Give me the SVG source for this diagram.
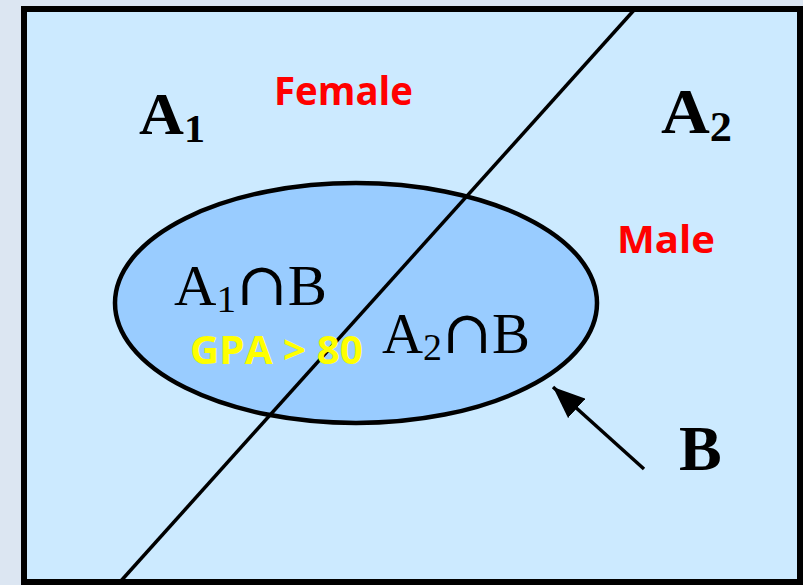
<svg xmlns="http://www.w3.org/2000/svg" width="803" height="585" viewBox="0 0 803 585">
  <style>
    .sym { font-family: "Liberation Serif", "DejaVu Serif", serif; fill: #000; }
    .bold { font-weight: bold; }
    .cap { font-family: "DejaVu Serif", serif; }
    .lbl { font-family: "Open Sans", "Liberation Sans", sans-serif; font-weight: bold; }
    .line { stroke: #000; fill: none; }
  </style>
  <defs>
    <marker id="arrowhead" viewBox="0 0 32 26" refX="32" refY="13" markerWidth="32" markerHeight="26" orient="auto" markerUnits="userSpaceOnUse">
      <path d="M0,0 L32,13 L0,26 Z" fill="#000"/>
    </marker>
  </defs>
  <rect width="803" height="585" fill="#dce6f2"/>
  <g id="universe">
    <rect x="24" y="9" width="776" height="573" fill="#cceaff" stroke="#000" stroke-width="6"/>
  </g>
  <g id="setB">
    <ellipse cx="356" cy="303" rx="241" ry="120" fill="#99ccff" stroke="#000" stroke-width="4.5"/>
  </g>
  <g id="connectors">
    <line class="line" x1="635" y1="9" x2="120" y2="582" stroke-width="3.5"/>
    <line class="line" x1="644" y1="469" x2="553" y2="387" stroke-width="3.5" marker-end="url(#arrowhead)"/>
  </g>
  <g id="labelA1">
    <text class="sym bold" x="139" y="134" font-size="59" textLength="66" lengthAdjust="spacingAndGlyphs">A<tspan font-size="40" dy="8">1</tspan></text>
  </g>
  <g id="labelA2">
    <text class="sym bold" x="661" y="133" font-size="64" textLength="71" lengthAdjust="spacingAndGlyphs">A<tspan font-size="42" dy="8">2</tspan></text>
  </g>
  <g id="labelFemale">
    <text class="lbl" x="274" y="105" font-size="40" fill="#ff0000" textLength="139" lengthAdjust="spacingAndGlyphs">Female</text>
  </g>
  <g id="labelMale">
    <text class="lbl" x="617" y="253" font-size="38" fill="#ff0000" textLength="98" lengthAdjust="spacingAndGlyphs">Male</text>
  </g>
  <g id="labelA1B">
    <text class="sym" x="174" y="305" font-size="57" textLength="153" lengthAdjust="spacingAndGlyphs">A<tspan font-size="38" dy="7">1</tspan><tspan class="cap" dy="-7" font-size="60">∩</tspan>B</text>
  </g>
  <g id="labelA2B">
    <text class="sym" x="382" y="353" font-size="57" textLength="148" lengthAdjust="spacingAndGlyphs">A<tspan font-size="38" dy="7">2</tspan><tspan class="cap" dy="-7" font-size="60">∩</tspan>B</text>
  </g>
  <g id="labelGPA">
    <text class="lbl" x="190" y="364" font-size="39" fill="#ffff00" textLength="173" lengthAdjust="spacingAndGlyphs">GPA &gt; 80</text>
  </g>
  <g id="labelB">
    <text class="sym bold" x="679" y="470" font-size="64">B</text>
  </g>
</svg>
